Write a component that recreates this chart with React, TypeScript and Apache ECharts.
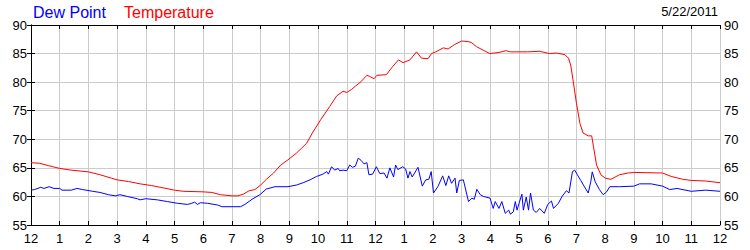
import React, { useEffect, useRef } from "react";
import * as echarts from "echarts";

const xTickLabels = ["12","1","2","3","4","5","6","7","8","9","10","11","12","1","2","3","4","5","6","7","8","9","10","11","12"];
const yTicks = [55, 60, 65, 70, 75, 80, 85, 90];

const tempHours = [0,0.3,0.6,1.0,1.4,2.0,2.4,2.8,3.0,3.4,3.8,4.2,4.6,5.0,5.3,6.0,6.3,6.6,7.0,7.2,7.4,7.6,7.8,8.0,8.2,8.45,8.7,8.95,9.25,9.6,9.8,10.1,10.4,10.65,10.87,11.0,11.16,11.3,11.5,11.7,11.8,11.95,12.05,12.38,12.56,12.8,12.96,13.2,13.43,13.6,13.83,13.95,14.1,14.36,14.53,14.76,15.0,15.23,15.35,15.52,15.75,15.98,16.3,16.55,16.7,17.3,17.72,18.06,18.3,18.6,18.72,18.8,18.88,19.0,19.12,19.23,19.41,19.53,19.6,19.7,19.85,20.0,20.2,20.5,20.8,21.0,22.0,22.3,22.7,23.0,23.5,24.0];
const tempValues = [65.9,65.8,65.4,64.9,64.6,64.3,63.8,63.2,62.9,62.6,62.2,61.9,61.5,61.1,60.9,60.8,60.7,60.3,60.1,60.1,60.4,61.0,61.2,62.0,63.0,64.1,65.5,66.4,67.6,69.3,71.1,73.5,75.7,77.6,78.4,78.2,78.7,79.3,80.1,81.2,81.0,80.6,81.2,81.3,82.5,83.9,83.4,83.9,85.3,84.2,84.1,85.0,85.3,86.0,85.8,86.6,87.2,87.1,86.9,86.2,85.6,85.0,85.2,85.5,85.3,85.3,85.4,85.0,85.1,84.8,84.2,83.0,80.4,76.3,72.8,71.1,70.6,70.6,68.5,65.5,63.8,63.2,63.0,63.8,64.1,64.2,64.1,63.5,63.0,62.8,62.7,62.4];

const dewHours = [0,0.12,0.34,0.45,0.63,0.8,1.0,1.08,1.4,1.6,1.8,2.15,2.4,2.7,2.95,3.1,3.35,3.7,3.8,4.0,4.4,4.75,5.1,5.45,5.6,5.7,5.8,5.9,6.15,6.5,6.65,7.3,7.45,7.7,7.97,8.2,8.5,8.95,9.25,9.48,9.72,9.95,10.17,10.3,10.36,10.47,10.58,10.7,10.75,10.87,11.0,11.1,11.2,11.3,11.4,11.5,11.6,11.7,11.77,11.9,12.03,12.15,12.3,12.4,12.5,12.63,12.7,12.78,12.95,13.05,13.13,13.2,13.28,13.48,13.63,13.75,13.86,13.94,14.02,14.17,14.34,14.45,14.55,14.65,14.77,14.83,14.92,15.06,15.24,15.36,15.44,15.53,15.65,15.76,15.99,16.1,16.17,16.3,16.4,16.52,16.64,16.7,16.8,16.87,16.93,17.0,17.1,17.15,17.25,17.33,17.4,17.5,17.6,17.72,17.88,18.0,18.13,18.2,18.37,18.5,18.65,18.74,18.86,18.94,19.03,19.15,19.3,19.41,19.5,19.55,19.65,19.8,19.93,20.05,20.16,20.5,21.0,21.2,21.6,22.0,22.25,22.5,23.0,23.5,24.0];
const dewValues = [61.1,61.2,61.6,61.4,61.7,61.4,61.4,61.1,61.1,61.4,61.2,60.9,60.7,60.3,60.1,60.3,60.0,59.6,59.4,59.6,59.4,59.1,58.8,58.6,58.8,59.0,58.6,58.9,58.8,58.5,58.2,58.2,58.6,59.5,60.3,61.3,61.7,61.7,62.0,62.4,62.9,63.5,63.9,64.35,63.9,65.2,64.6,64.9,64.5,64.6,64.5,65.5,65.1,65.3,66.7,66.3,65.7,65.9,63.8,63.9,65.2,64.0,64.1,63.2,65.0,63.4,65.5,64.7,65.2,64.8,63.2,64.35,63.4,65.1,61.8,62.9,63.0,64.35,60.6,61.7,63.6,61.9,63.6,62.3,63.2,60.6,62.8,62.9,59.1,59.7,59.5,61.25,60.3,60.0,59.7,57.9,59.1,57.9,59.1,57.05,57.6,56.9,57.3,59.1,57.6,58.8,60.4,57.6,59.9,57.6,60.6,57.6,57.2,57.9,57.05,58.6,59.2,57.9,58.8,60.0,61.0,60.6,64.35,64.6,63.8,62.8,61.5,60.6,62.6,64.3,62.6,61.2,60.3,60.8,61.7,61.7,61.8,62.2,62.2,61.8,61.2,61.4,60.9,61.1,60.9];

const legendDew = "Dew Point";
const legendTemp = "Temperature";
const dateText = "5/22/2011";

const FONT = "'Liberation Sans', Arial, sans-serif";

export default function App() {
  const ref = useRef<HTMLDivElement>(null);
  useEffect(() => {
    if (!ref.current) return;
    const chart = echarts.init(ref.current, null, { renderer: "svg" });
    const tempData = tempHours.map((h, i) => [h, tempValues[i]]);
    const dewData = dewHours.map((h, i) => [h, dewValues[i]]);
    const axisLine = { show: true, lineStyle: { color: "#000", width: 1 } };
    const tick = { show: true, inside: true, length: 4, lineStyle: { color: "#000" } };
    const xLabel = {
      color: "#000",
      fontSize: 13,
      fontFamily: FONT,
      margin: 7,
      formatter: (v: number) => xTickLabels[Math.round(v)] ?? "",
    };
    const yLabel = { color: "#000", fontSize: 13, fontFamily: FONT, margin: 4 };
    chart.setOption({
      animation: false,
      backgroundColor: "#fff",
      grid: { left: 31, right: 30, top: 25, bottom: 25, containLabel: false },
      xAxis: [
        {
          type: "value", min: 0, max: 24, interval: 1, position: "bottom",
          axisLine, axisTick: tick, axisLabel: xLabel,
          splitLine: { show: true, lineStyle: { color: "#cccccc", width: 1 } },
        },
        {
          type: "value", min: 0, max: 24, interval: 1, position: "top",
          axisLine, axisTick: tick, axisLabel: { show: false }, splitLine: { show: false },
        },
      ],
      yAxis: [
        {
          type: "value", min: yTicks[0], max: yTicks[yTicks.length - 1], interval: 5, position: "left",
          axisLine, axisTick: tick, axisLabel: yLabel,
          splitLine: { show: true, lineStyle: { color: "#cccccc", width: 1 } },
        },
        {
          type: "value", min: yTicks[0], max: yTicks[yTicks.length - 1], interval: 5, position: "right",
          axisLine, axisTick: tick, axisLabel: yLabel, splitLine: { show: false },
        },
      ],
      graphic: [
        { type: "text", left: 33, top: 4, style: { text: legendDew, fill: "#0000ff", font: `16px ${FONT}` } },
        { type: "text", left: 124, top: 4, style: { text: legendTemp, fill: "#ff0000", font: `16px ${FONT}` } },
        { type: "text", right: 32, top: 5, style: { text: dateText, fill: "#000", font: `13px ${FONT}` } },
      ],
      series: [
        {
          name: legendDew, type: "line", data: dewData, showSymbol: false, symbol: "none",
          lineStyle: { color: "#0000ff", width: 1 }, z: 3,
        },
        {
          name: legendTemp, type: "line", data: tempData, showSymbol: false, symbol: "none",
          lineStyle: { color: "#ff0000", width: 1 }, z: 3,
        },
      ],
    });
    return () => chart.dispose();
  }, []);
  return (
    <div
      ref={ref}
      style={{ position: "fixed", left: 0, top: 0, width: 750, height: 250, background: "#fff" }}
    />
  );
}
